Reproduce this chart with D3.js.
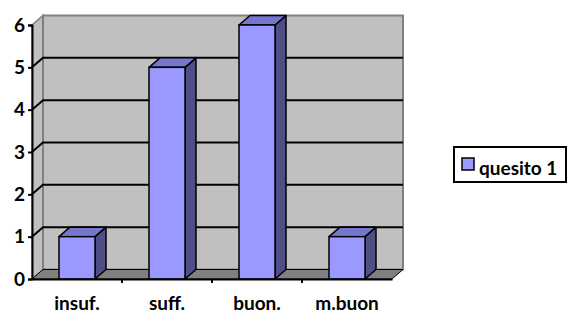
<!DOCTYPE html>
<html><head><meta charset="utf-8">
<script src="https://cdn.jsdelivr.net/npm/d3@7"></script>
<style>
body{margin:0;background:#fff;}
</style></head>
<body><svg id="c" width="571" height="313"></svg>
<script>
const categories = ["insuf.", "suff.", "buon.", "m.buon"];
const values = [1, 5, 6, 1];
const seriesName = "quesito 1";
const yTicks = [0, 1, 2, 3, 4, 5, 6];

(function () {
const FONT = "Lato, 'Liberation Sans', Arial, sans-serif";
const svg = d3.select("#c");
const pL = 32, pR = 392, pB = 279, pT = 25;
const dx = 11, dy = -9.5;
const x = d3.scaleBand().domain(categories).range([pL, pR]).padding(0);
const y = d3.scaleLinear().domain([0, 6]).range([pB, pT]);

// side wall
svg.append("polygon")
  .attr("points", [[pL, y(0)], [pL, y(6)], [pL + dx, y(6) + dy], [pL + dx, y(0) + dy]].join(" "))
  .attr("fill", "#c0c0c0").attr("stroke", "#808080").attr("stroke-width", 1.5);
// back wall
svg.append("polygon")
  .attr("points", [[pL + dx, y(0) + dy], [pL + dx, y(6) + dy], [pR + dx, y(6) + dy], [pR + dx, y(0) + dy]].join(" "))
  .attr("fill", "#c0c0c0").attr("stroke", "#808080").attr("stroke-width", 2);
// floor
svg.append("polygon")
  .attr("points", [[pL, y(0)], [pR, y(0)], [pR + dx, y(0) + dy], [pL + dx, y(0) + dy]].join(" "))
  .attr("fill", "#808080").attr("stroke", "#000").attr("stroke-width", 1);

// gridlines
const gv = yTicks.filter(v => v > 0 && v < 6);
svg.append("g").selectAll("path").data(gv).join("path")
  .attr("d", v => `M${pL},${y(v)}L${pL + dx},${y(v) + dy}L${pR + dx},${y(v) + dy}`)
  .attr("fill", "none").attr("stroke", "#000").attr("stroke-width", 2);

// bars
const bw = x.bandwidth() * 0.4;
const g = svg.append("g");
categories.forEach((c, i) => {
  const x0 = x(c) + (x.bandwidth() - bw) / 2, x1 = x0 + bw;
  const yt = y(values[i]), yb = y(0);
  g.append("polygon").attr("points", [[x1, yb], [x1, yt], [x1 + dx, yt + dy], [x1 + dx, yb + dy]].join(" "))
    .attr("fill", "#4f4f85").attr("stroke", "#000").attr("stroke-width", 1.5).attr("stroke-linejoin", "round");
  g.append("polygon").attr("points", [[x0, yt], [x1, yt], [x1 + dx, yt + dy], [x0 + dx, yt + dy]].join(" "))
    .attr("fill", "#7676cc").attr("stroke", "#000").attr("stroke-width", 1.5).attr("stroke-linejoin", "round");
  g.append("rect").attr("x", x0).attr("y", yt).attr("width", bw).attr("height", yb - yt)
    .attr("fill", "#9999ff").attr("stroke", "#000").attr("stroke-width", 1.5);
});

// y axis
const ya = svg.append("g").attr("transform", `translate(${pL},0)`)
  .call(d3.axisLeft(y).tickValues(yTicks).tickFormat(d3.format("d")).tickSize(4).tickPadding(3));
ya.select(".domain").attr("stroke", "#000").attr("stroke-width", 2);
ya.selectAll(".tick line").attr("stroke", "#000").attr("stroke-width", 2);
ya.selectAll("text").attr("font-size", 19).attr("font-family", FONT).attr("font-weight", "bold").attr("fill", "#000");

// x axis
const xa = svg.append("g").attr("transform", `translate(0,${pB})`)
  .call(d3.axisBottom(x).tickSize(0));
xa.select(".domain").attr("stroke", "#000").attr("stroke-width", 2);
xa.selectAll("text").attr("y", 31).attr("dy", null).attr("font-size", 19)
  .attr("font-family", FONT).attr("font-weight", "bold").attr("fill", "#000");
svg.append("g").selectAll("line").data(categories.slice(1)).join("line")
  .attr("x1", d => x(d)).attr("x2", d => x(d)).attr("y1", pB).attr("y2", pB + 4)
  .attr("stroke", "#000").attr("stroke-width", 2);

// legend
const lg = svg.append("g");
lg.append("rect").attr("x", 454).attr("y", 147).attr("width", 112).attr("height", 35)
  .attr("fill", "#fff").attr("stroke", "#000").attr("stroke-width", 2);
lg.append("rect").attr("x", 462).attr("y", 158).attr("width", 12).attr("height", 12)
  .attr("fill", "#9999ff").attr("stroke", "#000").attr("stroke-width", 1.5);
lg.append("text").attr("x", 479).attr("y", 175).attr("font-size", 19)
  .attr("font-family", FONT).attr("font-weight", "bold").attr("fill", "#000").text(seriesName);
})();
</script></body></html>
